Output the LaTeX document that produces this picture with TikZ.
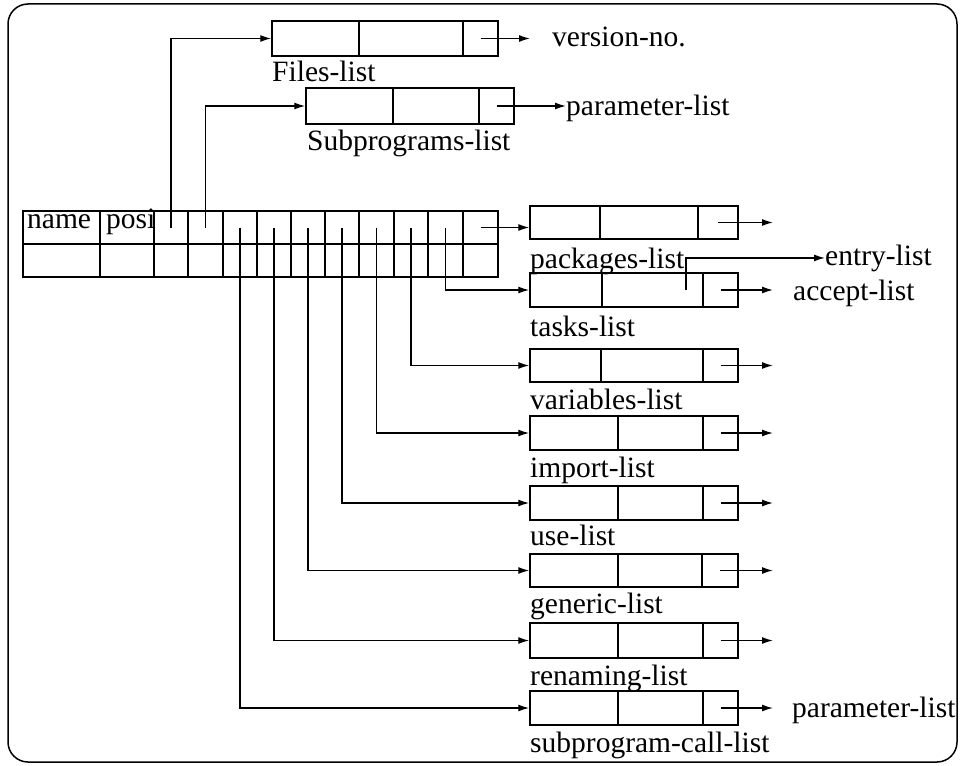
\documentclass[tikz,border=0pt]{standalone}
\usepackage{fontspec}
\setmainfont{Liberation Serif}
\usetikzlibrary{arrows.meta,fit}

\tikzset{
  line/.style={line width=1.5pt},
  lbox/.style={draw, line width=1.5pt, inner sep=0pt, rectangle},
  cell/.style={draw, line width=1.5pt, inner sep=0pt, rectangle},
  ptr/.style={line width=1.4pt, -{Latex[length=11pt,width=7pt]}},
  lbl/.style={inner sep=0pt, anchor=base west, font=\fontsize{29.5}{34}\selectfont},
}

% a list record: name, x1, y1, x2, y2, first divider, second divider
\newcommand\lstbox[7]{%
  \node[lbox, fit={(#2,#3) (#4,#5)}] (#1) {};
  \draw[line] (#6,#3) -- (#6,#5) (#7,#3) -- (#7,#5);
  \coordinate (#1-p) at ({(#7+#4)/2},{(#3+#5)/2});
}

\begin{document}
\begin{tikzpicture}[x=1pt,y=-1pt]
\useasboundingbox (0,0) rectangle (960,765);

% outer frame
\draw[line, rounded corners=20pt] (8,4) rectangle (957,762);

% descriptor table
\foreach \i/\a/\b in {1/23/100,2/100/154,3/154/188,4/188/223,5/223/257,6/257/291,
                      7/291/325,8/325/359,9/359/394,10/394/428,11/428/463,12/463/498}{
  \node[cell, fit={(\a,211) (\b,244)}] (c\i) {};
  \node[cell, fit={(\a,244) (\b,277)}] (d\i) {};
}
\node[lbl] (nm) at (27,228) {name};
\node[lbl] (ps) at (106,228) {posi};

% list records
\lstbox{fl}{272}{21}{498}{56}{359}{463}
\lstbox{sp}{306}{88}{514}{124}{393}{479}
\lstbox{pk}{530}{206}{738}{239}{600}{698}
\lstbox{tk}{530}{273}{738}{307}{602}{703}
\lstbox{vr}{530}{349}{738}{382}{601}{703}
\lstbox{im}{530}{416}{738}{450}{618}{703}
\lstbox{us}{530}{486}{738}{520}{618}{703}
\lstbox{ge}{530}{554}{738}{587}{618}{702}
\lstbox{rn}{530}{623}{738}{658}{618}{703}
\lstbox{sc}{530}{691}{738}{725}{618}{703}

% record labels
\node[lbl] (fl-l) at (272,82) {Files-list};
\node[lbl] (sp-l) at (307,150) {Subprograms-list};
\node[lbl] (pk-l) at (530,268) {packages-list};
\node[lbl] (tk-l) at (530,336) {tasks-list};
\node[lbl] (vr-l) at (530,409) {variables-list};
\node[lbl] (im-l) at (530,477) {import-list};
\node[lbl] (us-l) at (530,545) {use-list};
\node[lbl] (ge-l) at (530,613) {generic-list};
\node[lbl] (rn-l) at (530,685) {renaming-list};
\node[lbl] (sc-l) at (530,752) {subprogram-call-list};

% targets of the outgoing links
\node[lbl] (vno) at (552,47) {version-no.};
\node[lbl] (par1) at (566,115) {parameter-list};
\node[lbl] (ent) at (825,265) {entry-list};
\node[lbl] (acc) at (793,300) {accept-list};
\node[lbl] (par2) at (792,717) {parameter-list};
\coordinate (fl-e) at (530,38.5);
\coordinate (pk-e) at (773,222.5);
\coordinate (tk-e) at (773,290);
\coordinate (vr-e) at (773,365.5);
\coordinate (im-e) at (773,433);
\coordinate (us-e) at (773,503);
\coordinate (ge-e) at (773,570.5);
\coordinate (rn-e) at (773,640.5);
\coordinate (sc-e) at (773,708);
\coordinate (tk-x) at (686,290);

% pointers from the descriptor
\draw[ptr] (c3.center) |- (fl.west);
\draw[ptr] (c4.center) |- (sp.west);
\draw[ptr] (c12.center) -- (c12.center -| pk.west);
\draw[ptr] (c11.center) |- (tk.west);
\draw[ptr] (c10.center) |- (vr.west);
\draw[ptr] (c9.center) |- (im.west);
\draw[ptr] (c8.center) |- (us.west);
\draw[ptr] (c7.center) |- (ge.west);
\draw[ptr] (c6.center) |- (rn.west);
\draw[ptr] (c5.center) |- (sc.west);

% outgoing links of the records
\draw[ptr] (fl-p) -- (fl-e);
\draw[ptr] (sp-p) -- (sp-p -| par1.west);
\draw[ptr] (pk-p) -- (pk-e);
\draw[ptr] (tk-p) -- (tk-e);
\draw[ptr] (tk-x) |- (ent.west);
\draw[ptr] (vr-p) -- (vr-e);
\draw[ptr] (im-p) -- (im-e);
\draw[ptr] (us-p) -- (us-e);
\draw[ptr] (ge-p) -- (ge-e);
\draw[ptr] (rn-p) -- (rn-e);
\draw[ptr] (sc-p) -- (sc-e);
\end{tikzpicture}
\end{document}
